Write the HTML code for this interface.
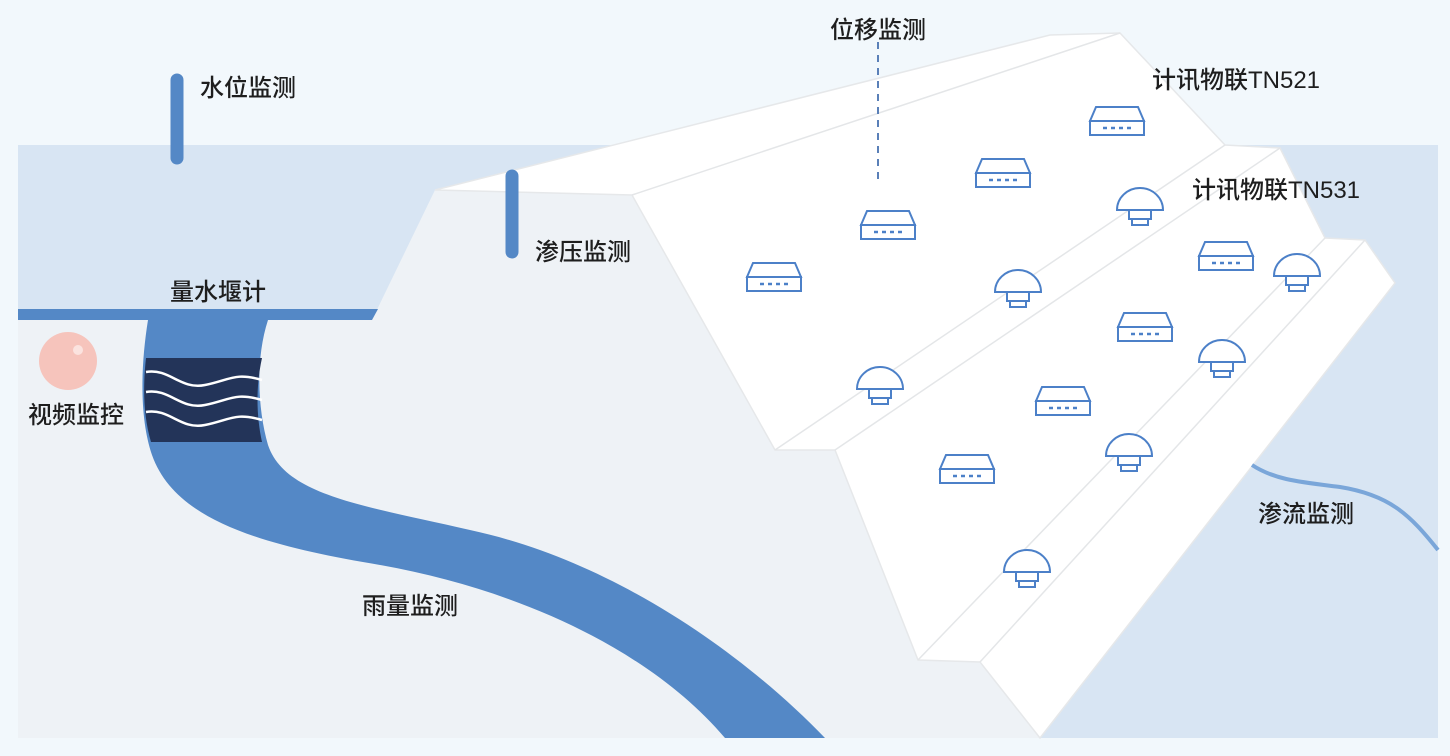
<!DOCTYPE html>
<html><head><meta charset="utf-8"><style>
html,body{margin:0;padding:0;background:#f2f8fc}
svg{display:block}
text{font-family:"Liberation Sans","Noto Sans CJK SC",sans-serif;font-size:24px;font-weight:500;fill:#1e1e1e}
</style></head><body>
<svg width="1450" height="756" viewBox="0 0 1450 756" xmlns="http://www.w3.org/2000/svg">
<defs>
<g id="r" fill="none" stroke="#4c80c8" stroke-width="2">
<path d="M-27,0 L-21,-14 L21,-14 L27,0 Z" fill="#fff"/>
<rect x="-27" y="0" width="54" height="14" fill="#fff"/>
<g stroke="#4c80c8" stroke-width="2.5"><line x1="-14" y1="7" x2="-10" y2="7"/><line x1="-6" y1="7" x2="-2" y2="7"/><line x1="2" y1="7" x2="6" y2="7"/><line x1="10" y1="7" x2="14" y2="7"/></g>
</g>
<g id="d" fill="#fff" stroke="#4c80c8" stroke-width="2">
<path d="M-23,0 A23,22 0 0 1 23,0 Z"/>
<rect x="-11" y="0" width="22" height="9"/>
<rect x="-8" y="9" width="16" height="6"/>
</g>
</defs>
<rect x="18" y="145" width="1420" height="593" fill="#d8e5f3"/>
<polygon points="18,320 372,320 435,190 632,195 775,450 835,450 918,660 980,662 1040,738 18,738" fill="#eef2f6"/>
<polygon points="435,190 1050,35 1120,33 1225,145 1280,148 1325,238 1365,240 1395,283 1040,738 980,662 918,660 835,450 775,450 632,195" fill="#fff" stroke="#e6e8ea" stroke-width="1.5"/>
<g stroke="#e4e6e8" stroke-width="1.5" fill="none">
<line x1="632" y1="195" x2="1120" y2="33"/>
<line x1="775" y1="450" x2="1225" y2="145"/>
<line x1="835" y1="450" x2="1280" y2="148"/>
<line x1="918" y1="660" x2="1325" y2="238"/>
<line x1="980" y1="662" x2="1365" y2="240"/>
</g>
<polygon points="18,309 378,309 372,320 18,320" fill="#5488c6"/>
<path d="M148,320 C140,370 140,420 152,455 C175,520 260,545 380,565 C520,590 650,650 725,738 L825,738 C740,650 610,560 470,530 C360,505 285,495 268,445 C258,410 255,360 268,320 Z" fill="#5488c6"/>
<path d="M146,358 L262,358 C256,385 256,415 262,442 L151,442 C143,415 143,385 146,358 Z" fill="#233459"/>
<g stroke="#fff" stroke-width="2.5" fill="none">
<path d="M146,372 C170,368 180,390 205,385 C230,380 235,372 262,380"/>
<path d="M146,392 C170,388 180,410 205,405 C230,400 235,392 262,400"/>
<path d="M146,412 C170,408 180,430 205,425 C230,420 235,412 262,420"/>
</g>
<line x1="177" y1="80" x2="177" y2="158" stroke="#5488c6" stroke-width="13" stroke-linecap="round"/>
<line x1="512" y1="176" x2="512" y2="252" stroke="#5488c6" stroke-width="13" stroke-linecap="round"/>
<circle cx="68" cy="361" r="29" fill="#f6c4bc"/>
<circle cx="78" cy="350" r="5" fill="#fbe3df"/>
<line x1="878" y1="42" x2="878" y2="182" stroke="#5a80b8" stroke-width="2" stroke-dasharray="7,6"/>
<path d="M1252,465 C1275,480 1300,482 1340,487 C1390,495 1410,515 1438,550" stroke="#7aa6d9" stroke-width="4" fill="none"/>
<use href="#r" x="1117" y="121"/><use href="#r" x="1003" y="173"/><use href="#r" x="888" y="225"/><use href="#r" x="774" y="277"/>
<use href="#r" x="1226" y="256"/><use href="#r" x="1145" y="327"/><use href="#r" x="1063" y="401"/><use href="#r" x="967" y="469"/>
<use href="#d" x="1140" y="210"/><use href="#d" x="1018" y="292"/><use href="#d" x="880" y="389"/><use href="#d" x="1297" y="276"/>
<use href="#d" x="1222" y="362"/><use href="#d" x="1129" y="456"/><use href="#d" x="1027" y="572"/>
<text x="200" y="96">水位监测</text>
<text x="535" y="260">渗压监测</text>
<text x="170" y="300">量水堰计</text>
<text x="28" y="423">视频监控</text>
<text x="362" y="614">雨量监测</text>
<text x="830" y="38">位移监测</text>
<text x="1152" y="88">计讯物联TN521</text>
<text x="1192" y="198">计讯物联TN531</text>
<text x="1258" y="522">渗流监测</text>
</svg>
</body></html>
